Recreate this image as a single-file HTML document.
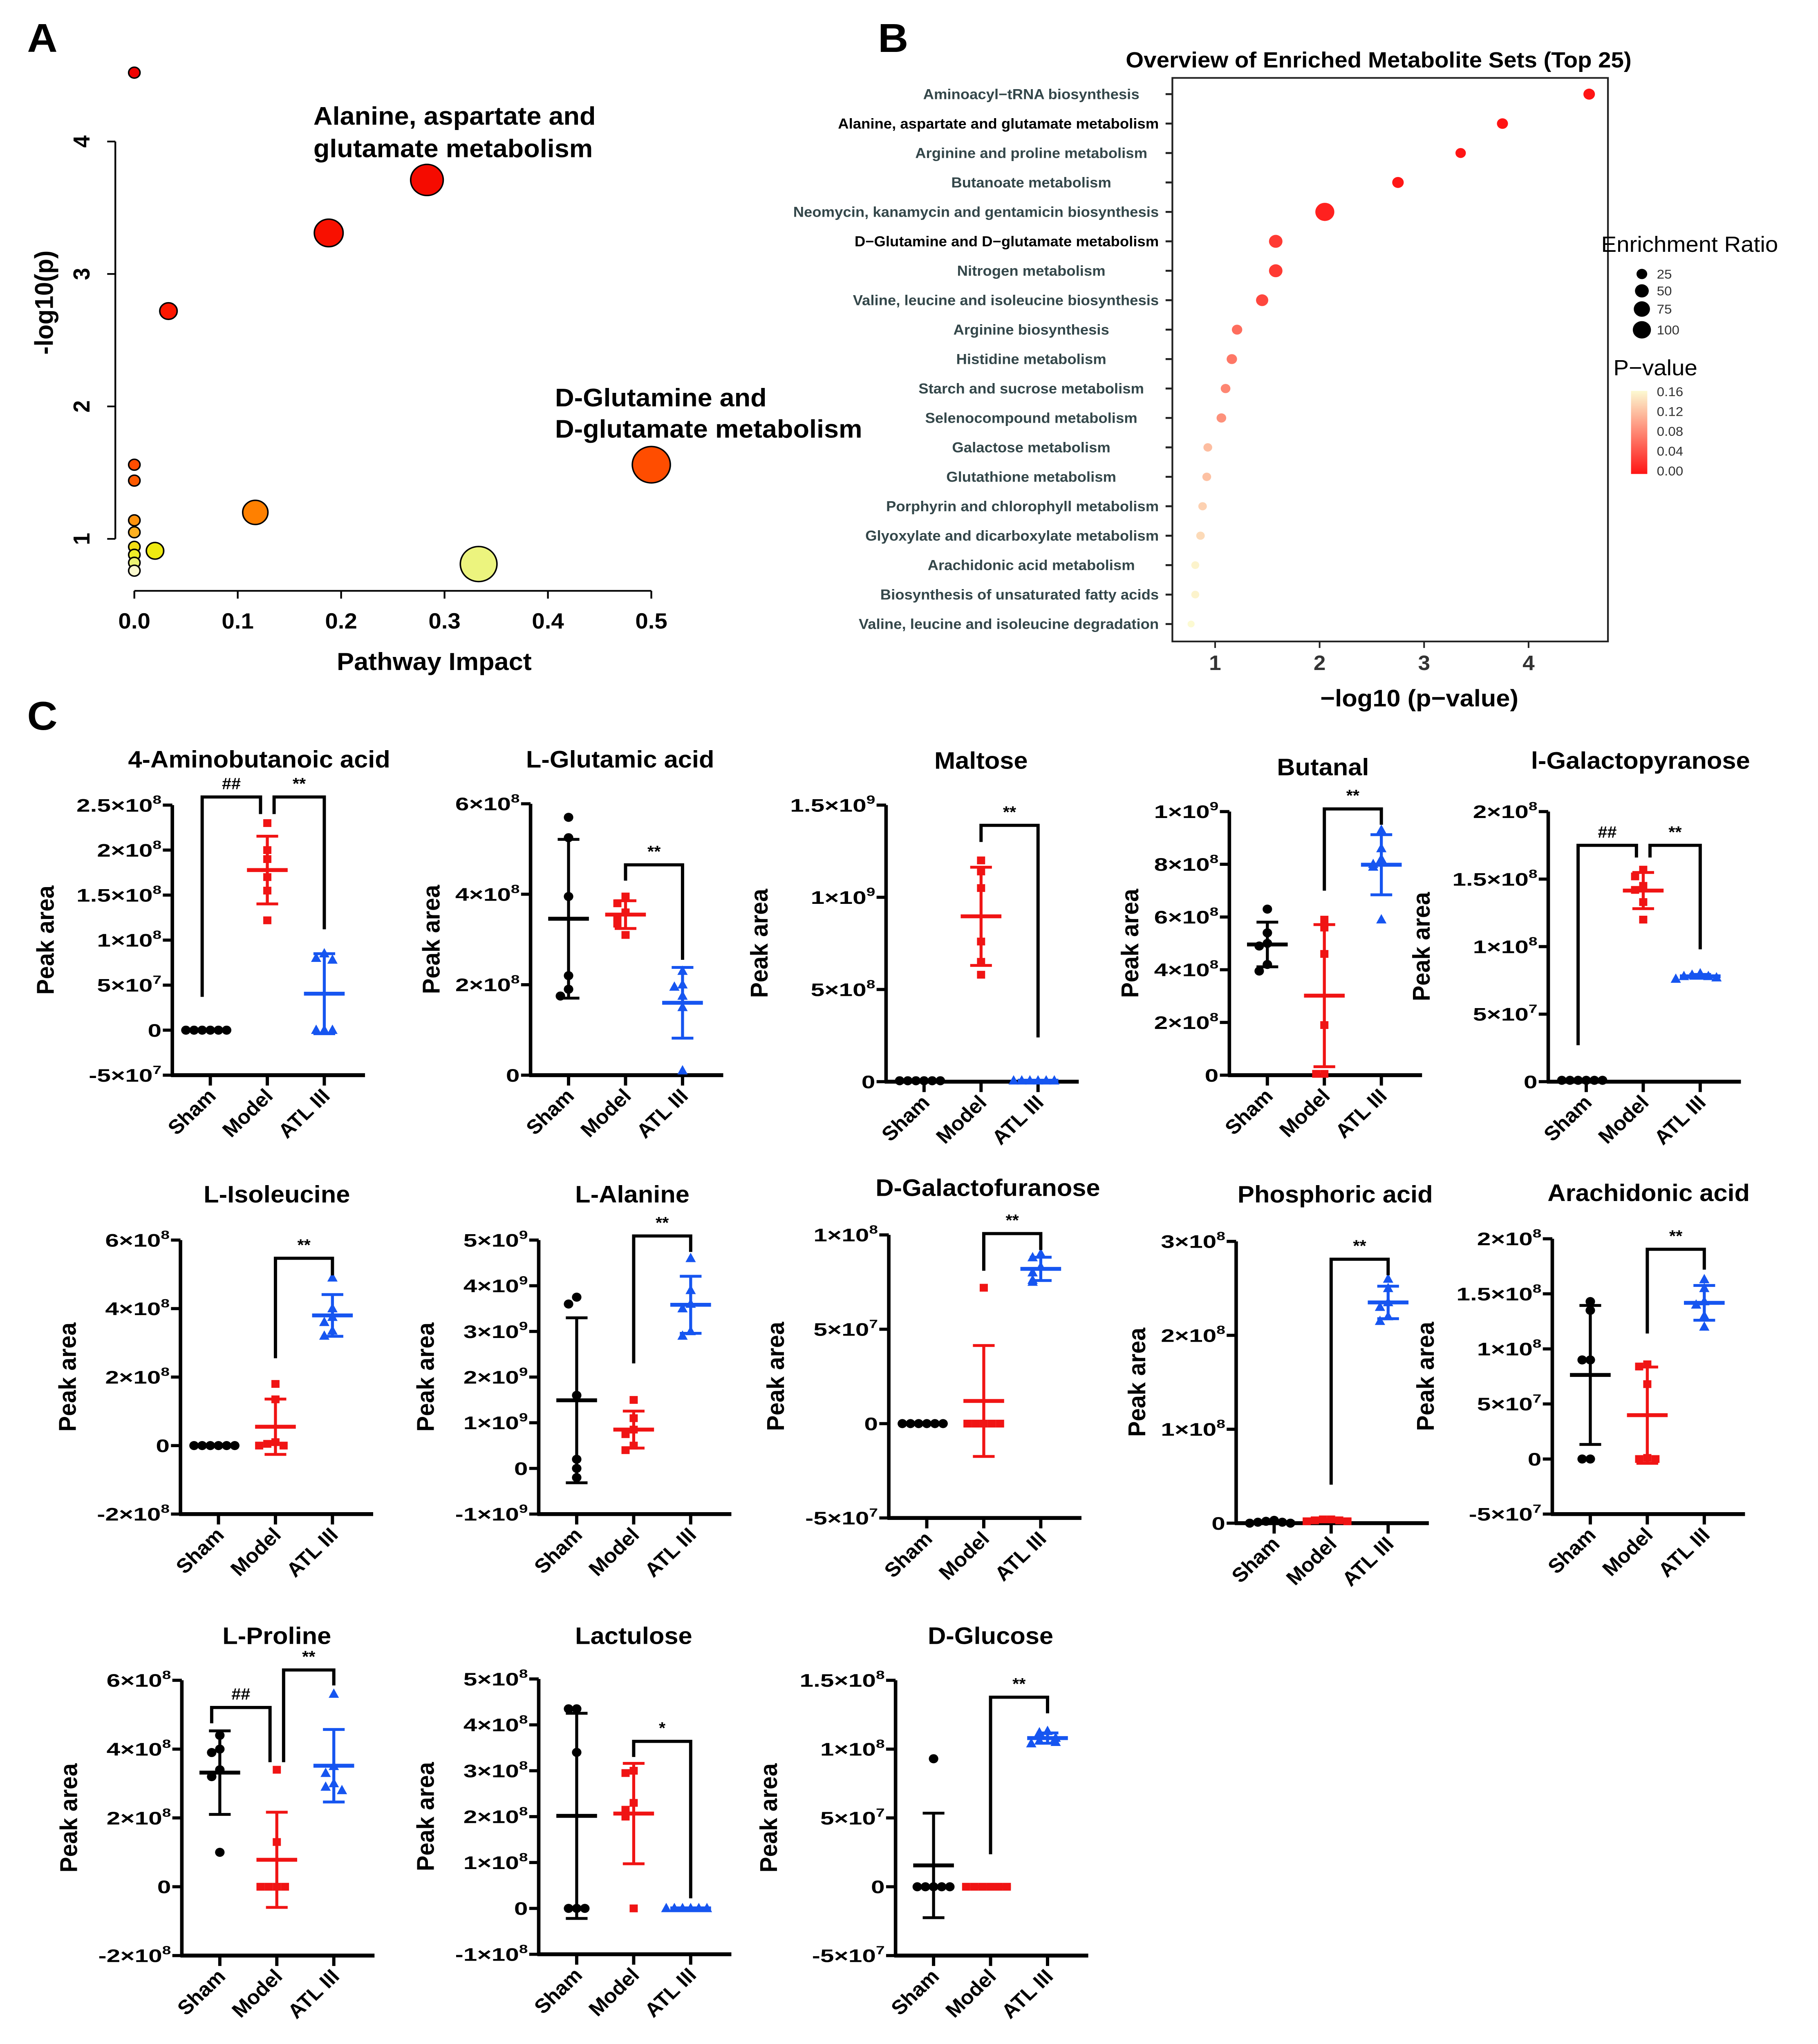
<!DOCTYPE html>
<html><head><meta charset="utf-8"><title>Metabolomics figure</title>
<style>
html,body{margin:0;padding:0;background:#fff;width:100%;height:100%;overflow:hidden;}
svg{display:block;width:100vw;height:100vh;font-family:"Liberation Sans",Arial,sans-serif;}
</style></head>
<body>
<svg id="fig" xmlns="http://www.w3.org/2000/svg" viewBox="0 0 1339.8 1574.1" preserveAspectRatio="none">
<rect x="0" y="0" width="1339.8" height="1574.1" fill="#fff"/>
<text x="20" y="40" font-size="31" font-weight="bold">A</text>
<text x="647" y="40" font-size="31" font-weight="bold">B</text>
<text x="20" y="562" font-size="31" font-weight="bold">C</text>
</svg>
<script>
// ---------- Panel A data ----------
const aImpact = [0, 0.283, 0.188, 0.033, 0.5, 0.117, 0.333, 0.02, 0, 0, 0, 0, 0, 0, 0, 0];
const aLogP   = [4.52, 3.71, 3.31, 2.72, 1.56, 1.2, 0.81, 0.91, 1.56, 1.44, 1.14, 1.05, 0.94, 0.88, 0.82, 0.76];
const aSize   = [4.2, 12, 10.6, 6.4, 14, 9.3, 13.5, 6.4, 4.2, 4.2, 4.2, 4.2, 4.2, 4.2, 4.2, 4.2];
const aXTicks = [0, 0.1, 0.2, 0.3, 0.4, 0.5];
const aYTicks = [1, 2, 3, 4];

// ---------- Panel B data ----------
const bNames = ["Aminoacyl\u2212tRNA biosynthesis","Alanine, aspartate and glutamate metabolism","Arginine and proline metabolism","Butanoate metabolism","Neomycin, kanamycin and gentamicin biosynthesis","D\u2212Glutamine and D\u2212glutamate metabolism","Nitrogen metabolism","Valine, leucine and isoleucine biosynthesis","Arginine biosynthesis","Histidine metabolism","Starch and sucrose metabolism","Selenocompound metabolism","Galactose metabolism","Glutathione metabolism","Porphyrin and chlorophyll metabolism","Glyoxylate and dicarboxylate metabolism","Arachidonic acid metabolism","Biosynthesis of unsaturated fatty acids","Valine, leucine and isoleucine degradation"];
const bLogP = [4.58, 3.75, 3.35, 2.75, 2.05, 1.58, 1.58, 1.45, 1.21, 1.16, 1.1, 1.06, 0.93, 0.92, 0.88, 0.86, 0.81, 0.81, 0.77];
const bRatio = [25, 22, 18, 25, 100, 40, 40, 30, 18, 18, 14, 14, 10, 10, 9, 9, 7, 7, 4];
const bBold = [0, 1, 0, 0, 0, 1, 0, 0, 0, 0, 0, 0, 0, 0, 0, 0, 0, 0, 0];
const bXTicks = [1, 2, 3, 4];
const bSizeLegend = [25, 50, 75, 100];
const bPLegend = [0.16, 0.12, 0.08, 0.04, 0.00];

// ---------- Panel C data (values in "unit" multiples) ----------
const cTitles = ["4-Aminobutanoic acid","L-Glutamic acid","Maltose","Butanal","l-Galactopyranose","L-Isoleucine","L-Alanine","D-Galactofuranose","Phosphoric acid","Arachidonic acid","L-Proline","Lactulose","D-Glucose"];
const cUnits = [1e8, 1e8, 1e9, 1e8, 1e8, 1e8, 1e9, 1e7, 1e8, 1e7, 1e8, 1e8, 1e7];
const cTicks = [
 [-0.5,0,0.5,1,1.5,2,2.5],[0,2,4,6],[0,0.5,1,1.5],[0,2,4,6,8,10],[0,0.5,1,1.5,2],
 [-2,0,2,4,6],[-1,0,1,2,3,4,5],[-5,0,5,10],[0,1,2,3],[-5,0,5,10,15,20],
 [-2,0,2,4,6],[-1,0,1,2,3,4,5],[-5,0,5,10,15]];
const shamVals = [
 [0,0,0,0,0,0],[5.7,5.25,3.95,2.2,1.9,1.75],[0.005,0.005,0.005,0.005,0.005,0.005],[6.3,5.4,5.0,4.9,4.2,3.95],[0.01,0.01,0.01,0.01,0.01,0.01],
 [0,0,0,0,0,0],[3.75,3.6,1.6,0.2,0.0,-0.2],[0,0,0,0,0,0],[0.03,0.02,0.01,0.01,0,0],[14.3,13.5,9.0,9.0,0,0],
 [4.4,4.0,3.9,3.4,3.2,1.0],[4.35,4.35,3.4,0,0,0],[9.3,0,0,0,0,0]];
const modelVals = [
 [2.3,2.0,1.9,1.7,1.55,1.22],[3.95,3.8,3.6,3.5,3.35,3.1],[1.2,1.14,1.05,0.76,0.65,0.58],[5.9,5.6,4.6,1.9,0.05,0.05],[1.57,1.52,1.45,1.42,1.33,1.2],
 [1.8,1.35,0.1,0.05,0,0],[1.5,1.1,0.85,0.75,0.5,0.4],[7.2,0,0,0,0,0],[0.04,0.04,0.03,0.03,0.02,0.02],[8.6,8.4,6.8,0.1,0,0],
 [3.4,1.3,0,0,0,0],[3.0,2.95,2.3,2.15,2.0,0.0],[0,0,0,0,0,0]];
const atlVals = [
 [0.85,0.8,0.78,0,0,0],[2.3,2.0,1.95,1.75,1.5,0.1],[0.005,0.005,0.005,0.005,0.005,0.005],[9.3,8.6,8.2,8.0,7.9,5.9],[0.8,0.79,0.78,0.78,0.77,0.76],
 [4.9,4.0,3.75,3.6,3.35,3.2],[4.6,3.9,3.6,3.5,3.0,2.9],[9.0,8.8,8.3,8.0,7.6,7.5],[2.6,2.5,2.35,2.3,2.2,2.15],[16.3,15.5,14.3,14.0,13.0,12.0],
 [5.6,3.5,3.3,3.0,2.9,2.8],[0,0,0,0,0,0],[11.3,11.2,10.8,10.6,10.5,10.4]];
// brackets: [groupA, groupB, barValue, legAValue, legBValue, label]
const cBrackets = [
 [[0,1,2.59,0.37,2.4,"##"],[1,2,2.59,2.4,1.12,"**"]],
 [[1,2,4.65,4.3,2.55,"**"]],
 [[1,2,1.39,1.3,0.24,"**"]],
 [[1,2,10.1,7.0,9.5,"**"]],
 [[0,1,1.75,0.27,1.66,"##"],[1,2,1.75,1.66,0.98,"**"]],
 [[1,2,5.47,2.55,4.97,"**"]],
 [[1,2,5.09,2.3,4.74,"**"]],
 [[1,2,10.07,8.1,9.2,"**"]],
 [[1,2,2.81,0.41,2.64,"**"]],
 [[1,2,19.05,11.4,17.2,"**"]],
 [[0,1,5.21,4.75,3.62,"##"],[1,2,6.3,3.62,5.85,"**"]],
 [[1,2,3.64,3.3,0.22,"*"]],
 [[1,2,13.77,2.36,12.6,"**"]]];
const cGroups = ["Sham","Model","ATL III"];

// ---------- layout (pixel geometry, not data) ----------
const cLayout = [
 {ax:127,yT:620,yB:828,tx:191,ty:591},{ax:391,yT:619,yB:828,tx:457,ty:591},{ax:653,yT:620,yB:833,tx:723,ty:592},
 {ax:906,yT:625,yB:828,tx:975,ty:597},{ax:1141,yT:625,yB:833,tx:1209,ty:592},
 {ax:133,yT:955,yB:1166,tx:204,ty:926},{ax:397,yT:955,yB:1166,tx:466,ty:926},{ax:655,yT:951,yB:1169,tx:728,ty:921},
 {ax:911,yT:956,yB:1173,tx:984,ty:926},{ax:1144,yT:954,yB:1166,tx:1215,ty:925},
 {ax:134,yT:1294,yB:1506,tx:204,ty:1266},{ax:397,yT:1293,yB:1505,tx:467,ty:1266},{ax:660,yT:1294,yB:1506,tx:730,ty:1266}];
const groupOff = [28, 70, 112];
const groupColor = ["#000000", "#f01414", "#1655f0"];

const NS = "http://www.w3.org/2000/svg";
const svg = document.getElementById("fig");
function mk(tag, attrs, parent) {
  const e = document.createElementNS(NS, tag);
  for (const k in attrs) e.setAttribute(k, attrs[k]);
  (parent || svg).appendChild(e);
  return e;
}

// ================= Panel A =================
const gA = mk("g", {});


const axA = v => 99 + v * 762;
const ayA = v => 517 - v * 102;
const aStops = [[0.75,[255,251,224]],[0.8,[236,245,138]],[0.9,[238,238,16]],[1.05,[255,176,32]],[1.2,[255,128,0]],[1.5,[255,80,0]],[2.5,[255,26,0]],[4.6,[238,0,0]]];
function aColor(v) {
  if (v <= aStops[0][0]) return "rgb(" + aStops[0][1] + ")";
  for (let i = 1; i < aStops.length; i++) {
    if (v <= aStops[i][0]) {
      const t = (v - aStops[i-1][0]) / (aStops[i][0] - aStops[i-1][0]);
      const c = aStops[i-1][1].map((x, j) => Math.round(x + (aStops[i][1][j] - x) * t));
      return "rgb(" + c + ")";
    }
  }
  return "rgb(" + aStops[aStops.length-1][1] + ")";
}
const aYLine = mk("line", {x1:85, y1:ayA(aYTicks[0]), x2:85, y2:ayA(aYTicks[aYTicks.length-1]), stroke:"#000", "stroke-width":1.3}, gA);


aYTicks.forEach(t => {
  const tk = mk("line", {x1:79, y1:ayA(t), x2:85, y2:ayA(t), stroke:"#000", "stroke-width":1.3}, gA);
  
  
  const tl = mk("text", {x:0, y:0, "font-size":17, "font-weight":"bold", "text-anchor":"middle", transform:"translate(66," + ayA(t) + ") rotate(-90)"}, gA);
  
  
  tl.textContent = String(t);
});
const aXLine = mk("line", {x1:axA(aXTicks[0]), y1:455, x2:axA(aXTicks[aXTicks.length-1]), y2:455, stroke:"#000", "stroke-width":1.3}, gA);


aXTicks.forEach(t => {
  const tk = mk("line", {x1:axA(t), y1:455, x2:axA(t), y2:461, stroke:"#000", "stroke-width":1.3}, gA);
  
  
  const tl = mk("text", {x:axA(t), y:484, "font-size":17, "font-weight":"bold", "text-anchor":"middle"}, gA);
  
  
  tl.textContent = t.toFixed(1);
});
const aXT = mk("text", {x:320, y:516, "font-size":19, "font-weight":"bold", "text-anchor":"middle"}, gA);


aXT.textContent = "Pathway Impact";
const aYT = mk("text", {x:0, y:0, "font-size":19, "font-weight":"bold", "text-anchor":"middle", transform:"translate(39,233) rotate(-90)"}, gA);


aYT.textContent = "-log10(p)";
aImpact.forEach((v, i) => {
  const c = mk("circle", {cx:axA(v), cy:ayA(aLogP[i]), r:aSize[i], fill:aColor(aLogP[i]), stroke:"#000", "stroke-width":1.1}, gA);
  
  
});
[["Alanine, aspartate and",231,96],["glutamate metabolism",231,121],["D-Glutamine and",409,313],["D-glutamate metabolism",409,337]].forEach(l => {
  const t = mk("text", {x:l[1], y:l[2], "font-size":19.5, "font-weight":"bold"}, gA);
  
  
  t.textContent = l[0];
});

// ================= Panel B =================
const gB = mk("g", {});


const bx = v => 895.5 + (v - 1) * 77;
const by = i => 72.5 + i * 22.67;
const bR = er => 1.5 + 0.55 * Math.sqrt(er);
function pColor(p) {
  const t = Math.max(0, Math.min(1, p / 0.16));
  return "rgb(" + Math.round(255 - 3 * t) + "," + Math.round(20 + 230 * t) + "," + Math.round(20 + 190 * t) + ")";
}
const bTitle = mk("text", {x:1016, y:52, "font-size":17, "font-weight":"bold", "text-anchor":"middle"}, gB);


bTitle.textContent = "Overview of Enriched Metabolite Sets (Top 25)";
const bBox = mk("rect", {x:864, y:60, width:321, height:434, fill:"none", stroke:"#222", "stroke-width":1.3}, gB);


bNames.forEach((n, i) => {
  const tk = mk("line", {x1:859, y1:by(i), x2:864, y2:by(i), stroke:"#222", "stroke-width":1.5}, gB);
  
  
  const t = mk("text", {x:0, y:by(i) + 3.8, "font-size":11, "font-weight":"bold", fill:bBold[i] ? "#000" : "#34474a", "text-anchor":"middle"}, gB);
  
  
  t.textContent = n;
  let w = 0;
  try { w = t.getComputedTextLength(); } catch (e) { w = n.length * 5.8; }
  t.setAttribute("x", Math.min(760, 854 - w / 2));
  const c = mk("circle", {cx:bx(bLogP[i]), cy:by(i), r:bR(bRatio[i]), fill:pColor(Math.pow(10, -bLogP[i]))}, gB);
  
  
});
bXTicks.forEach(t => {
  const tk = mk("line", {x1:bx(t), y1:494, x2:bx(t), y2:499, stroke:"#222", "stroke-width":1.2}, gB);
  
  
  const tl = mk("text", {x:bx(t), y:516, "font-size":16, "font-weight":"bold", fill:"#333", "text-anchor":"middle"}, gB);
  
  
  tl.textContent = String(t);
});
const bXT = mk("text", {x:1046, y:544, "font-size":18.5, "font-weight":"bold", "text-anchor":"middle"}, gB);


bXT.textContent = "\u2212log10 (p\u2212value)";
const erT = mk("text", {x:1180, y:194, "font-size":17}, gB);


erT.textContent = "Enrichment Ratio";
bSizeLegend.forEach((v, i) => {
  const yy = [211, 224, 238, 254][i];
  const c = mk("circle", {cx:1210, cy:yy, r:bR(v) - 0.3, fill:"#000"}, gB);
  
  
  const t = mk("text", {x:1221, y:yy + 3.5, "font-size":10, fill:"#333"}, gB);
  
  
  t.textContent = String(v);
});
const pT = mk("text", {x:1189, y:289, "font-size":17}, gB);


pT.textContent = "P\u2212value";
const defs = mk("defs", {});
const lg = mk("linearGradient", {id:"pg", x1:0, y1:0, x2:0, y2:1}, defs);
mk("stop", {offset:"0", "stop-color":pColor(0.16)}, lg);
mk("stop", {offset:"0.5", "stop-color":pColor(0.08)}, lg);
mk("stop", {offset:"1", "stop-color":pColor(0)}, lg);
const bar = mk("rect", {x:1202, y:301, width:12, height:64, fill:"url(#pg)"}, gB);


bPLegend.forEach((p, i) => {
  const t = mk("text", {x:1221, y:305 + i * 15.3, "font-size":10, fill:"#333"}, gB);
  
  
  t.textContent = p.toFixed(2);
});

// ================= Panel C =================
function fmtTick(v) {
  if (v === 0) return {m:"0", e:null};
  const e = Math.floor(Math.log10(Math.abs(v)) + 1e-9);
  let m = v / Math.pow(10, e);
  m = Math.round(m * 100) / 100;
  return {m:String(m) + "\u00d710", e:String(e)};
}
function meanSd(a) {
  const m = a.reduce((s, x) => s + x, 0) / a.length;
  const sd = Math.sqrt(a.reduce((s, x) => s + (x - m) * (x - m), 0) / (a.length - 1));
  return [m, sd];
}
cTitles.forEach((title, pi) => {
  const L = cLayout[pi];
  const ticks = cTicks[pi];
  const tMin = ticks[0], tMax = ticks[ticks.length - 1];
  const yS = v => L.yB - (v - tMin) / (tMax - tMin) * (L.yB - L.yT);
  const gx = gi => L.ax + groupOff[gi];
  const g = mk("g", {});
  
  

  const tt = mk("text", {x:L.tx, y:L.ty, "font-size":18.5, "font-weight":"bold", "text-anchor":"middle"}, g);
  
  
  tt.textContent = title;

  const ya = mk("line", {x1:L.ax, y1:L.yT, x2:L.ax, y2:L.yB, stroke:"#000", "stroke-width":2.6}, g);
  
  
  let maxW = 0;
  ticks.forEach(t => {
    const y = yS(t);
    const tk = mk("line", {x1:L.ax - 7, y1:y, x2:L.ax, y2:y, stroke:"#000", "stroke-width":2.4}, g);
    
    
    const f = fmtTick(t * cUnits[pi]);
    const tl = mk("text", {x:0, y:0, "font-size":14, "font-weight":"bold", "text-anchor":"end", transform:"translate(" + (L.ax - 8) + "," + (y + 5) + ") scale(1.3,1)"}, g);
    
    
    tl.appendChild(document.createTextNode(f.m));
    let w = f.m.length * 7.8 * 1.3;
    if (f.e !== null) {
      const sp = mk("tspan", {dy:-6, "font-size":9}, tl);
      sp.textContent = f.e;
      w += 6.5;
    }
    maxW = Math.max(maxW, w);
  });
  const yt = mk("text", {x:0, y:0, "font-size":18, "font-weight":"bold", "text-anchor":"middle", transform:"translate(" + (L.ax - 20 - maxW) + "," + ((L.yT + L.yB) / 2) + ") rotate(-90)"}, g);
  
  
  yt.textContent = "Peak area";

  const xa = mk("line", {x1:L.ax - 1, y1:L.yB, x2:L.ax + 142, y2:L.yB, stroke:"#000", "stroke-width":3}, g);
  
  
  cGroups.forEach((gn, gi) => {
    const tk = mk("line", {x1:gx(gi), y1:L.yB, x2:gx(gi), y2:L.yB + 8, stroke:"#000", "stroke-width":2.4}, g);
    
    
    const tl = mk("text", {x:0, y:0, "font-size":15.5, "font-weight":"bold", "text-anchor":"end", transform:"translate(" + (gx(gi) + 5) + "," + (L.yB + 17) + ") rotate(-45)"}, g);
    
    
    tl.textContent = gn;
  });

  [shamVals[pi], modelVals[pi], atlVals[pi]].forEach((vals, gi) => {
    const col = groupColor[gi];
    const cx = gx(gi);
    const [m, sd] = meanSd(vals);
    const eb = mk("line", {x1:cx, y1:yS(m + sd), x2:cx, y2:yS(m - sd), stroke:col, "stroke-width":2.2}, g);
    
    
    [m + sd, m - sd].forEach(v => {
      const cap = mk("line", {x1:cx - 8, y1:yS(v), x2:cx + 8, y2:yS(v), stroke:col, "stroke-width":2.2}, g);
      
      
    });
    const ml = mk("line", {x1:cx - 15, y1:yS(m), x2:cx + 15, y2:yS(m), stroke:col, "stroke-width":3}, g);
    
    
    const placed = [];
    const offs = [0, -6, 6, -12, 12, -18, 18];
    vals.forEach(v => {
      const y = yS(v);
      const n = placed.filter(p => Math.abs(p - y) < 6).length;
      placed.push(y);
      const x = cx + offs[n];
      let mark;
      if (gi === 0) mark = mk("circle", {cx:x, cy:y, r:3.5, fill:col}, g);
      else if (gi === 1) mark = mk("rect", {x:x - 3, y:y - 3, width:6, height:6, fill:col}, g);
      else mark = mk("polygon", {points:(x) + "," + (y - 4.3) + " " + (x - 3.8) + "," + (y + 2.9) + " " + (x + 3.8) + "," + (y + 2.9), fill:col}, g);
      
      
    });
  });

  const br = cBrackets[pi];
  br.forEach(b => {
    const shared = br.length > 1;
    const x1 = gx(b[0]) + (shared && b[0] === 1 ? 5 : (shared ? -6 : 0));
    const x2 = gx(b[1]) - (shared && b[1] === 1 ? 5 : 0);
    const yb = yS(b[2]);
    const p = mk("path", {d:"M" + x1 + "," + yS(b[3]) + " L" + x1 + "," + yb + " L" + x2 + "," + yb + " L" + x2 + "," + yS(b[4]), fill:"none", stroke:"#000", "stroke-width":2.4}, g);
    
    
    const st = mk("text", {x:(x1 + x2) / 2, y:yb - 6, "font-size":12.5, "font-weight":"bold", "text-anchor":"middle"}, g);
    
    
    st.textContent = b[5];
  });
});
</script>
</body></html>
